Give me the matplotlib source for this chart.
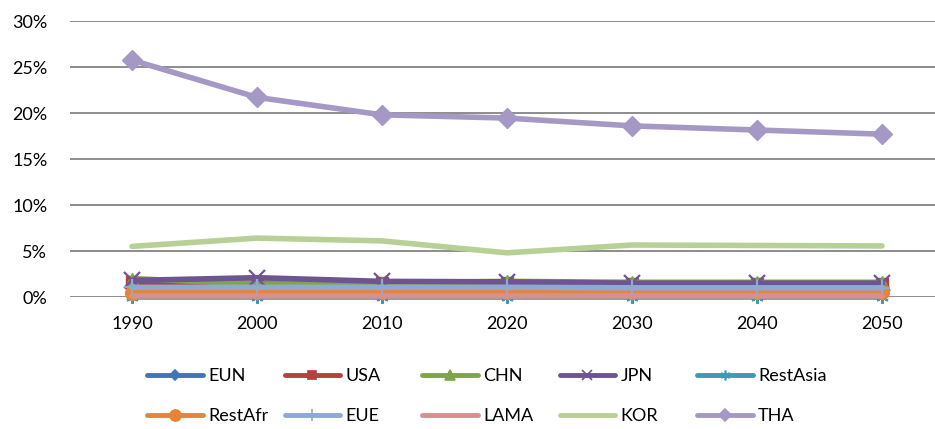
import numpy as np
import matplotlib
matplotlib.use("Agg")
import matplotlib.pyplot as plt
from matplotlib.ticker import PercentFormatter
from matplotlib.lines import Line2D

# share of each region, 1990-2050
years = ["1990", "2000", "2010", "2020", "2030", "2040", "2050"]
EUN = [0.010, 0.010, 0.0095, 0.009, 0.009, 0.009, 0.009]
USA = [0.016, 0.015, 0.015, 0.015, 0.014, 0.014, 0.014]
CHN = [0.020, 0.014, 0.0155, 0.017, 0.016, 0.016, 0.016]
JPN = [0.018, 0.021, 0.017, 0.0165, 0.015, 0.015, 0.015]
RestAsia = [0.0, 0.0, 0.0, 0.0, 0.0, 0.0, 0.0]
RestAfr = [0.0045, 0.005, 0.005, 0.005, 0.005, 0.005, 0.005]
EUE = [0.0105, 0.0105, 0.0105, 0.0105, 0.010, 0.010, 0.010]
LAMA = [0.001, 0.001, 0.001, 0.001, 0.001, 0.001, 0.001]
KOR = [0.055, 0.064, 0.061, 0.048, 0.0565, 0.056, 0.0555]
THA = [0.2575, 0.217, 0.198, 0.1945, 0.186, 0.1815, 0.177]

names = ["EUN", "USA", "CHN", "JPN", "RestAsia", "RestAfr", "EUE", "LAMA", "KOR", "THA"]
series = [EUN, USA, CHN, JPN, RestAsia, RestAfr, EUE, LAMA, KOR, THA]
colors = ["#4374B3", "#B4413E", "#7FA646", "#6E5491", "#3D9AB4",
          "#E6843A", "#8DA9D4", "#D39290", "#B7D096", "#A698C4"]
markers = ["D", "s", "^", "x", (6, 2, 0), "o", "+", None, None, "D"]
msizes = [7, 8, 9, 11, 9, 10, 11, 0, 0, 10]
legend_msizes = [5, 6, 7, 7, 7, 8, 8, 0, 0, 6]

plt.rcParams["font.family"] = ["Lato", "DejaVu Sans"]

fig = plt.figure(figsize=(9.35, 4.29), dpi=100)
ax = fig.add_axes([69.5 / 935, 1 - 297 / 429, 875 / 935, 276 / 429])

x = np.arange(len(years))
handles = []
for name, vals, c, m, ms in zip(names, series, colors, markers, msizes):
    mew = 1.6 if m in ("x", "+", (6, 2, 0)) else 1
    line, = ax.plot(x, vals, color=c, lw=4, marker=m, markersize=ms,
                    markeredgewidth=mew, markeredgecolor=c, markerfacecolor=c,
                    solid_capstyle="round", clip_on=False, label=name)
    handles.append(line)

ax.set_xlim(-0.5, 6.5)
ax.set_ylim(0, 0.30)
ax.set_yticks(np.arange(0, 0.31, 0.05))
ax.yaxis.set_major_formatter(PercentFormatter(1.0, decimals=0))
ax.set_xticks(x)
ax.set_xticklabels(years)
ax.grid(axis="y", color="#8c8c8c", lw=1.4)
ax.set_axisbelow(True)
for s in ax.spines.values():
    s.set_visible(False)
ax.tick_params(axis="both", length=0, labelsize=13, colors="#000000")
ax.tick_params(axis="y", pad=16)
ax.tick_params(axis="x", pad=14)

# legend laid out as a 5 x 2 grid with equal column widths
x0, dx = 147 / 935, 137.5 / 935
row_y = [1 - 376 / 429, 1 - 416 / 429]
for i, (h, lms) in enumerate(zip(handles, legend_msizes)):
    row, col = divmod(i, 5)
    proxy = Line2D([], [], color=h.get_color(), lw=3.5, marker=h.get_marker(),
                   markersize=lms, markeredgewidth=1.2,
                   markeredgecolor=h.get_color(), markerfacecolor=h.get_color(),
                   solid_capstyle="round")
    fig.legend(handles=[proxy], labels=[h.get_label()], loc="center left",
               bbox_to_anchor=(x0 + col * dx, row_y[row]), frameon=False,
               handlelength=3.1, handletextpad=0.28, borderpad=0,
               borderaxespad=0, fontsize=13)

fig.savefig("out.png", dpi=100)
